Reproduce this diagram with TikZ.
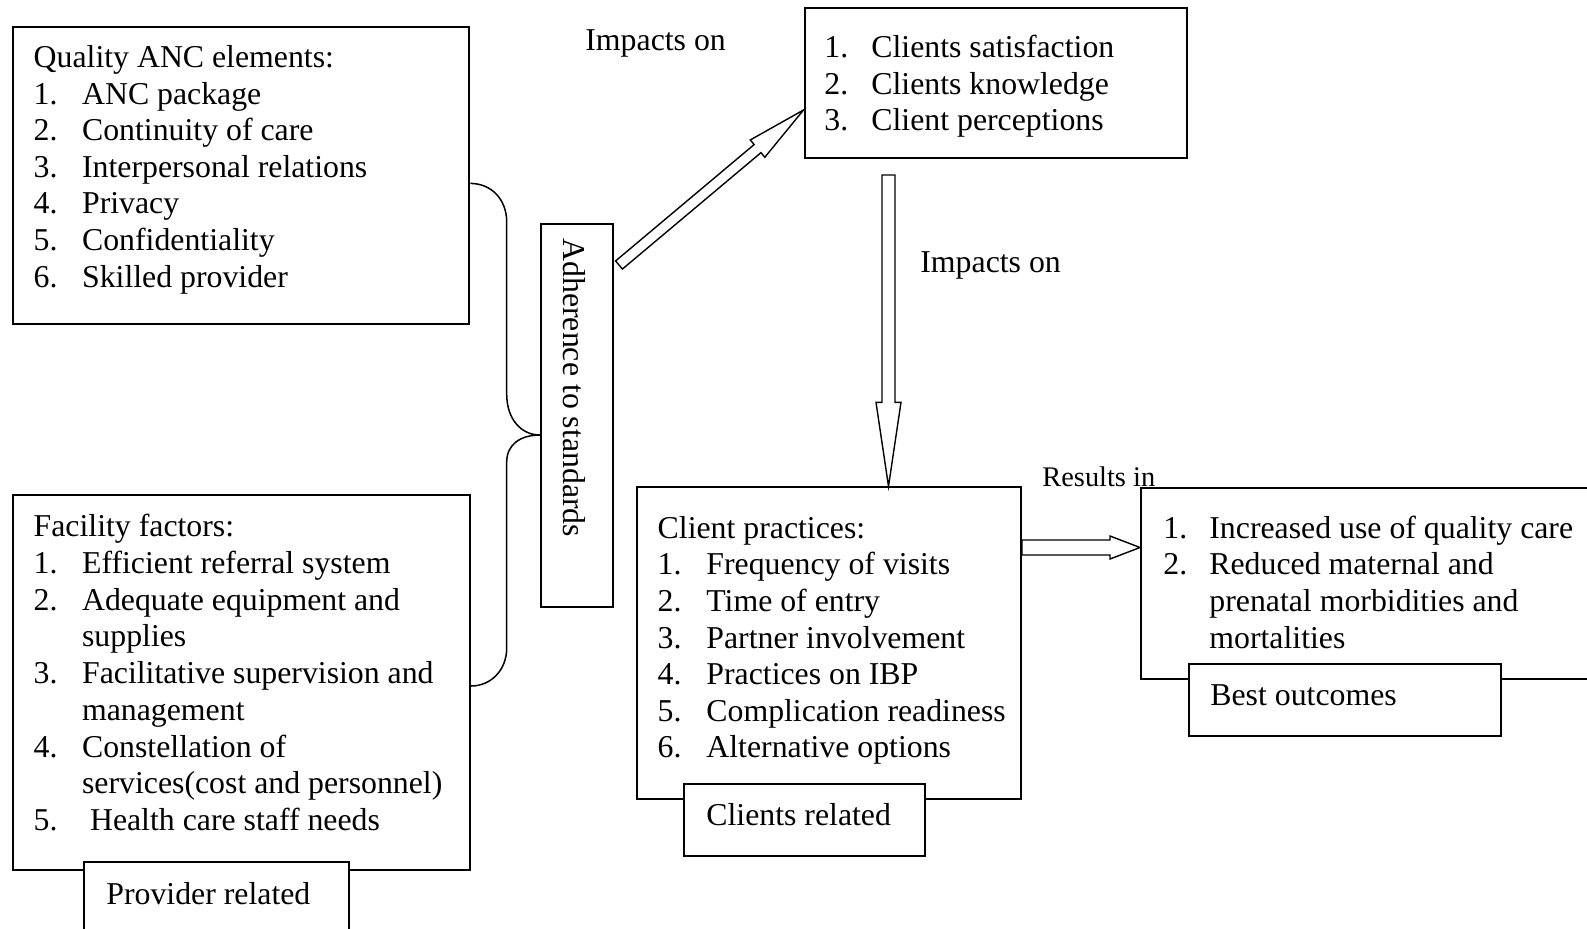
\documentclass[tikz,border=0pt]{standalone}
\usepackage{fontspec}
\setmainfont{Liberation Serif}
\usetikzlibrary{calc,fit,positioning}

\tikzset{
  box/.style={draw, line width=1pt, fill=white, inner sep=0pt},
  txt/.style={anchor=base west, inner sep=0pt, yshift=-1.25pt,
    font=\fontsize{15.9}{18.3}\selectfont},
  brace line/.style={line width=0.75pt},
  fat line/.style={line width=0.7pt, fill=white, line join=miter}
}
% from, to, shaft half width, head half width, head length
\newcommand{\fatarrow}[5]{%
  \coordinate (hbase) at ($(#2)!#5!(#1)$);
  \draw[fat line] ($(#1)!#3!90:(#2)$) -- ($(hbase)!#3!90:(#2)$)
    -- ($(hbase)!#4!90:(#2)$) -- (#2) -- ($(hbase)!#4!-90:(#2)$)
    -- ($(hbase)!#3!-90:(#2)$) -- ($(#1)!#3!-90:(#2)$) -- cycle;
}

\begin{document}
\begin{tikzpicture}[x=0.5pt,y=-0.5pt]
\useasboundingbox (0,0) rectangle (1587,928);

% quality elements
\node[box, fit={(12.7,26.7) (469.3,324.3)}] (anc) {};
\node[txt] (anchead) at (33.3,65) {Quality ANC elements:};
\foreach \n/\t [count=\i] in {1./ANC package, 2./Continuity of care,
    3./Interpersonal relations, 4./Privacy, 5./Confidentiality,
    6./Skilled provider} {
  \node[txt] at (33.3,65+36.6*\i) {\n};
  \node[txt] at (81.7,65+36.6*\i) {\t};
}

% facility factors
\node[box, fit={(12.7,495) (470,870)}] (facility) {};
\node[txt] (fachead) at (33.3,534.3) {Facility factors:};
\foreach \n/\t [count=\i] in {1./Efficient referral system,
    2./Adequate equipment and, {}/supplies, 3./Facilitative supervision and,
    {}/management, 4./Constellation of, {}/services(cost and personnel),
    5./\ Health care staff needs} {
  \node[txt] at (33.3,534.3+36.7*\i) {\n};
  \node[txt] at (81.7,534.3+36.7*\i) {\t};
}
\node[box, fit={(84.3,862) (349,940)}] (provider) {};
\node[txt] at (106,902) {Provider related};

% adherence
\node[box, fit={(541,223.6) (613,607)}] (adherence) {};
\node[txt, rotate=-90] (adhtext) at (563.4,235.6) {Adherence to standards};

\coordinate (braceA) at (anc.east |- 0,183.4);
\coordinate (braceB) at (facility.east |- 0,686);
\coordinate (braceM) at (adherence.west |- 0,435);
\draw[brace line] (braceA) .. controls (491,183.4) and (506.7,199) .. (506.7,222)
  -- (506.7,394) .. controls (506.7,419) and (521,435) .. (braceM)
  .. controls (521,435) and (506.7,444) .. (506.7,462)
  -- (506.7,648) .. controls (506.7,670) and (491,686) .. (braceB);

% client outcomes
\node[box, fit={(804.5,8) (1187,158)}] (clients) {};
\foreach \n/\t [count=\i] in {1./Clients satisfaction,
    2./Clients knowledge, 3./Client perceptions} {
  \node[txt] at (824,18.4+36.6*\i) {\n};
  \node[txt] at (871,18.4+36.6*\i) {\t};
}
\node[txt] (impact1) at (585,48.3) {Impacts on};
\node[txt] (impact2) at (920,270) {Impacts on};

% client practices
\node[box, fit={(636.7,487.3) (1021,799.3)}] (practices) {};
\node[txt] (prahead) at (657.3,535.7) {Client practices:};
\foreach \n/\t [count=\i] in {1./Frequency of visits, 2./Time of entry,
    3./Partner involvement, 4./Practices on IBP,
    5./Complication readiness, 6./Alternative options} {
  \node[txt] at (657.3,535.7+36.6*\i) {\n};
  \node[txt] at (706,535.7+36.6*\i) {\t};
}
\node[box, fit={(684.3,784) (925,856)}] (clientrel) {};
\node[txt] at (706,823.3) {Clients related};

% outcomes
\node[txt, font=\fontsize{14.2}{16}\selectfont] (results) at (1042,484) {Results in};
\node[box, fit={(1141,488) (1600,679)}] (outcomes) {};
\foreach \n/\t [count=\i] in {1./Increased use of quality care,
    2./Reduced maternal and, {}/prenatal morbidities and, {}/mortalities} {
  \node[txt] at (1163,499.1+36.6*\i) {\n};
  \node[txt] at (1209,499.1+36.6*\i) {\t};
}
\node[box, fit={(1189,664) (1501,736)}] (best) {};
\node[txt] at (1210,703) {Best outcomes};

% arrows
\coordinate (a1) at (619,265);
\coordinate (a2) at (clients.west |- 0,110);
\fatarrow{a1}{a2}{2.65pt}{5.65pt}{30pt}
\coordinate (b1) at (888.5,175);
\coordinate (b2) at (practices.north -| b1);
\fatarrow{b1}{b2}{3.25pt}{6.25pt}{42pt}
\coordinate (c1) at (practices.east |- 0,547.5);
\coordinate (c2) at (outcomes.west |- c1);
\fatarrow{c1}{c2}{3.75pt}{5.75pt}{15pt}
\end{tikzpicture}
\end{document}
